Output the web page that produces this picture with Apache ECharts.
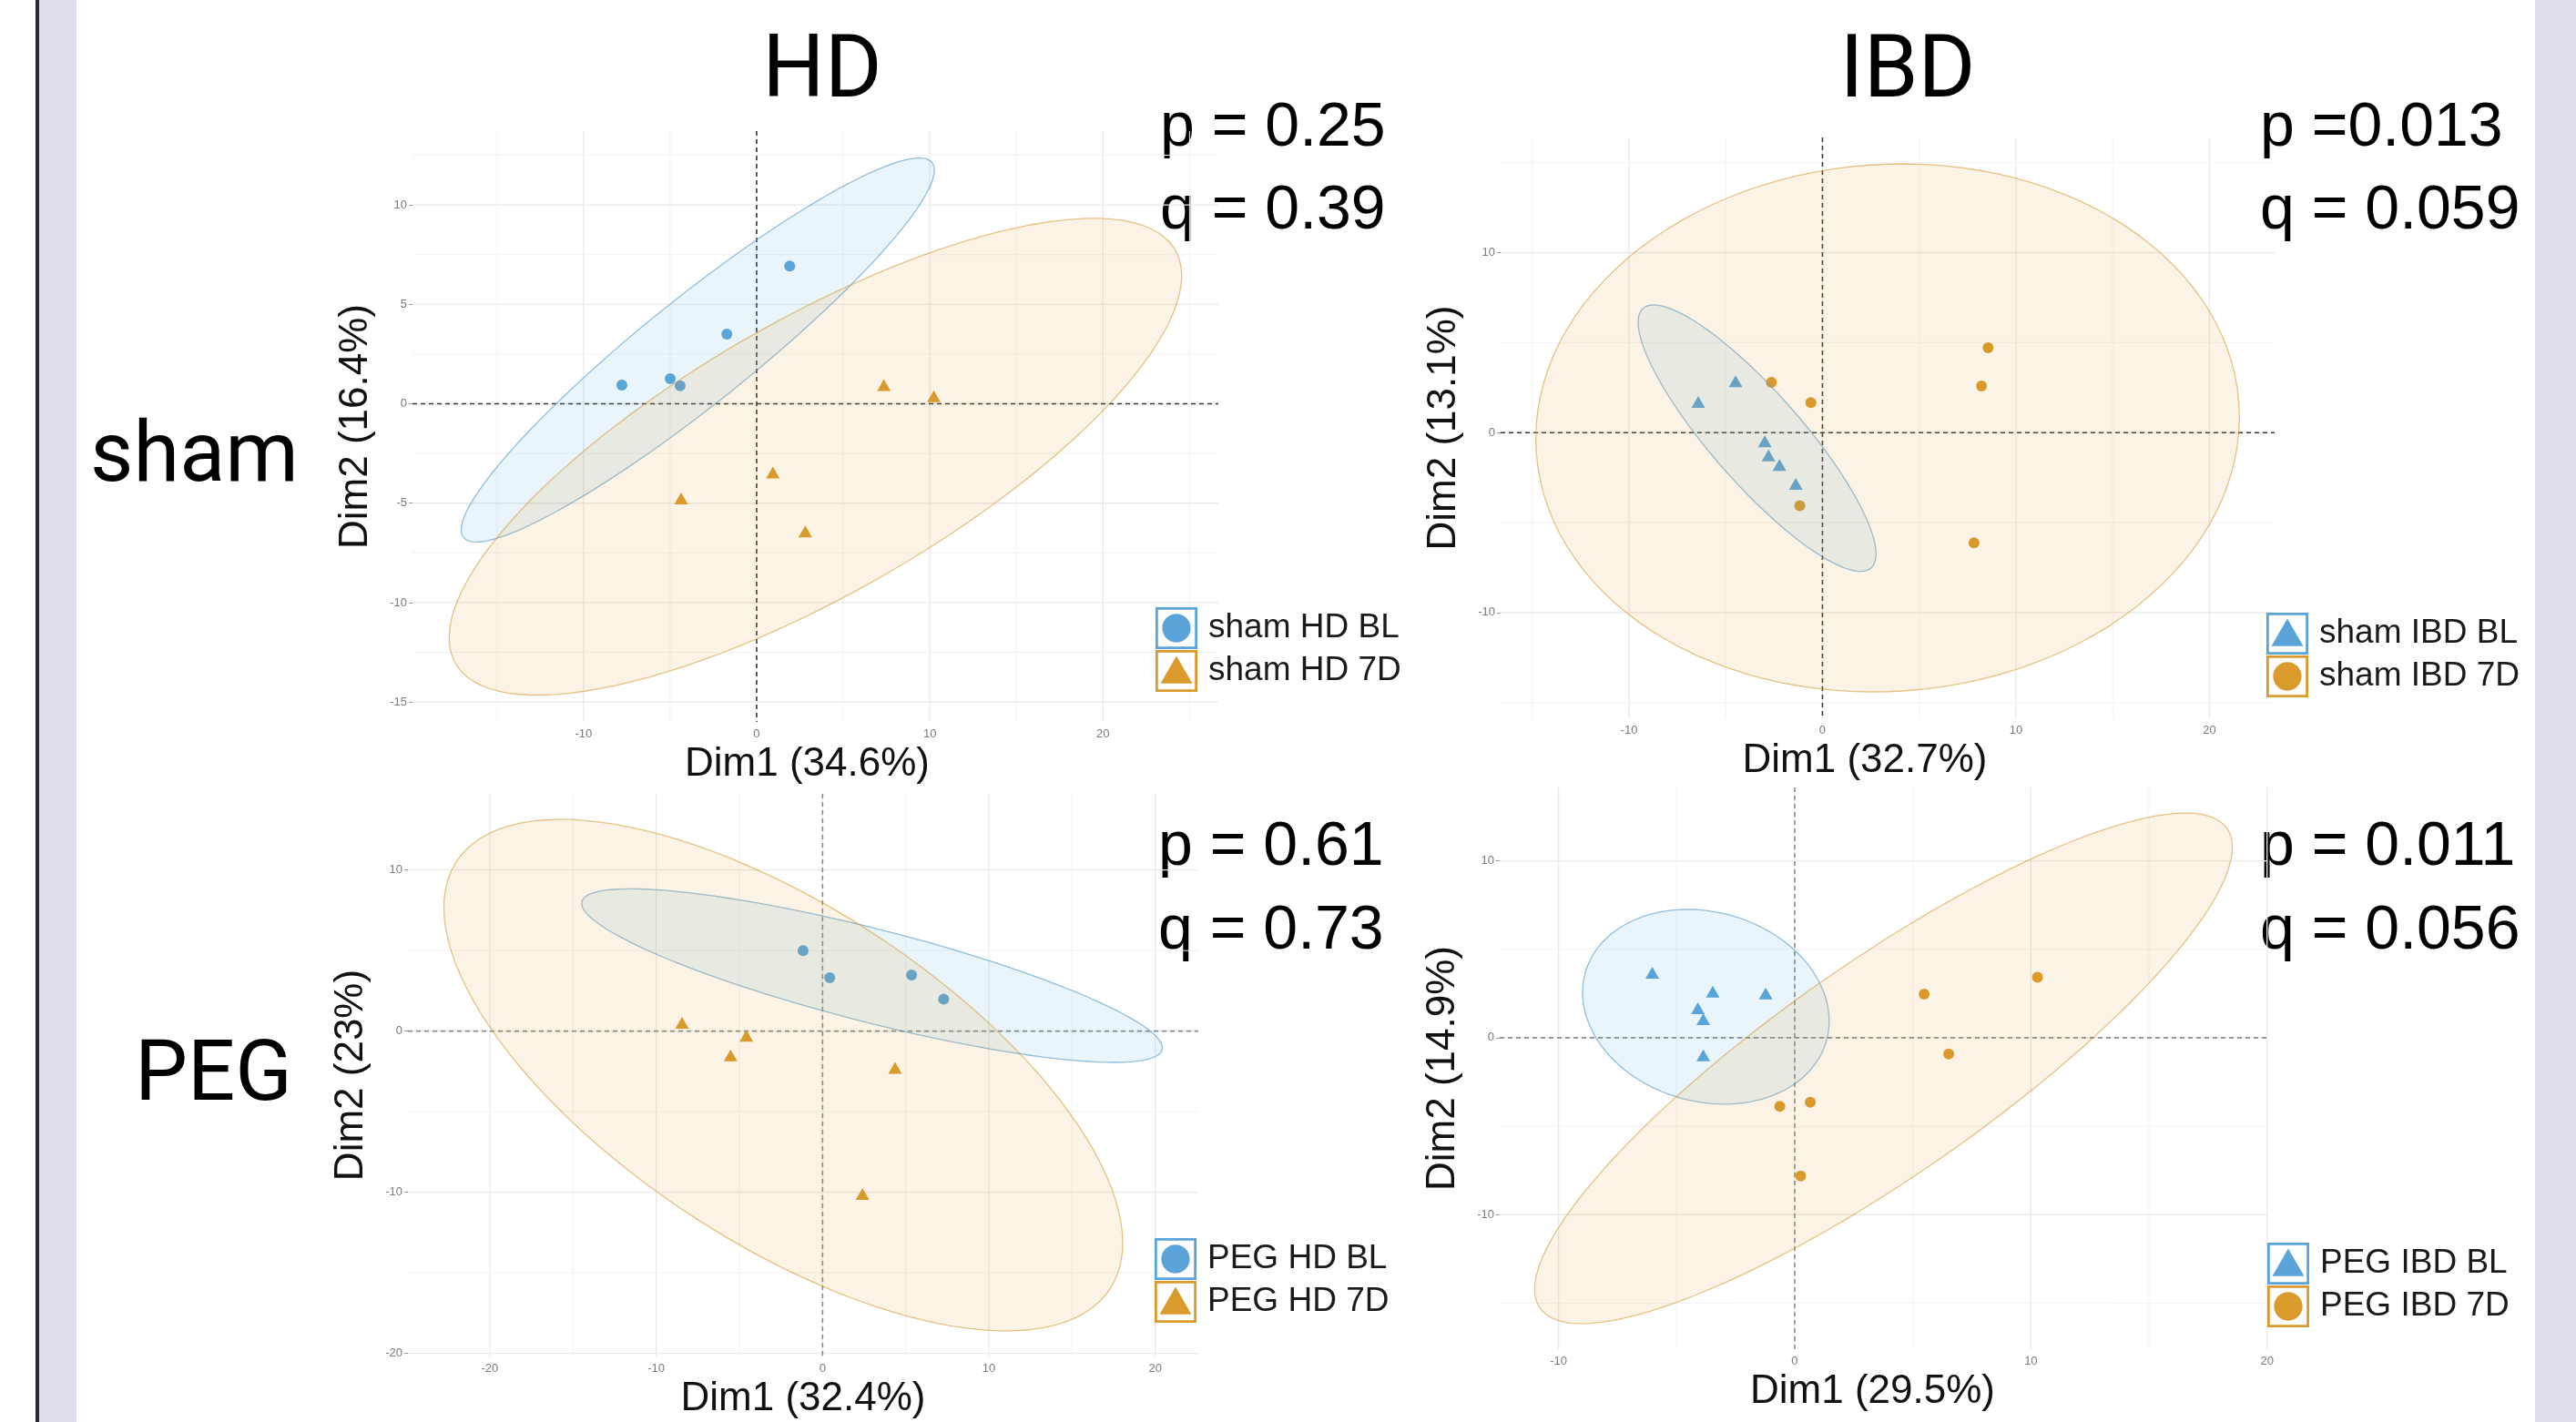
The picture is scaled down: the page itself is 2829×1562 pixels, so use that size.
<!DOCTYPE html>
<html>
<head>
<meta charset="utf-8">
<title>PCA HD / IBD</title>
<script src="https://cdn.jsdelivr.net/npm/echarts@6.0.0/dist/echarts.min.js"></script>
<style>
  html, body { margin: 0; padding: 0; background: #fff; }
  #chart { width: 2829px; height: 1562px; }
</style>
</head>
<body>
<div id="chart"></div>
<script>
// individual scores (Dim1, Dim2)
const shamHdBlX = [-7.78, -4.99, -4.42, -1.72, 1.91];
const shamHdBlY = [0.94, 1.26, 0.90, 3.50, 6.92];
const shamHd7dX = [7.35, 10.23, 0.94, -4.36, 2.81];
const shamHd7dY = [0.94, 0.38, -3.46, -4.76, -6.42];

const shamIbdBlX = [-6.42, -4.49, -2.98, -2.79, -2.22, -1.38];
const shamIbdBlY = [1.71, 2.85, -0.48, -1.27, -1.80, -2.85];
const shamIbd7dX = [-2.64, -0.60, -1.17, 8.56, 8.22, 7.83];
const shamIbd7dY = [2.79, 1.67, -4.06, 4.71, 2.59, -6.12];

const pegHdBlX = [-1.17, 0.43, 5.35, 7.28];
const pegHdBlY = [5.00, 3.31, 3.48, 1.99];
const pegHd7dX = [-8.45, -4.58, -5.53, 4.36, 2.40];
const pegHd7dY = [0.52, -0.29, -1.50, -2.28, -10.10];

const pegIbdBlX = [-6.03, -3.47, -1.23, -4.10, -3.87, -3.87];
const pegIbdBlY = [3.68, 2.61, 2.50, 1.67, 1.05, -1.00];
const pegIbd7dX = [10.28, 5.48, 6.52, -0.63, 0.66, 0.25];
const pegIbd7dY = [3.42, 2.46, -0.92, -3.88, -3.64, -7.81];

// axis breaks
const shamHdXTicks = [-10, 0, 10, 20];
const shamHdYTicks = [-15, -10, -5, 0, 5, 10];
const shamIbdXTicks = [-10, 0, 10, 20];
const shamIbdYTicks = [-10, 0, 10];
const pegHdXTicks = [-20, -10, 0, 10, 20];
const pegHdYTicks = [-20, -10, 0, 10];
const pegIbdXTicks = [-10, 0, 10, 20];
const pegIbdYTicks = [-10, 0, 10];

const pValues = ['p = 0.25', 'p =0.013', 'p = 0.61', 'p = 0.011'];
const qValues = ['q = 0.39', 'q = 0.059', 'q = 0.73', 'q = 0.056'];

const BLUE = '#5ba4d9';
const ORANGE = '#da9a2c';
const FONT = '"Liberation Sans", Arial, sans-serif';

const CIRCLE_KEY = 'path://M0,0H100V100H0Z M6,6V94H94V6Z M50,16C68.8,16 84,31.2 84,50C84,68.8 68.8,84 50,84C31.2,84 16,68.8 16,50C16,31.2 31.2,16 50,16Z';
const TRI_KEY = 'path://M0,0H100V100H0Z M6,6V94H94V6Z M50,14L88,80H12Z';

const panels = [
  { bl: [shamHdBlX, shamHdBlY], d7: [shamHd7dX, shamHd7dY], names: ['sham HD BL', 'sham HD 7D'],
    blSym: 'circle', d7Sym: 'triangle', xTicks: shamHdXTicks, yTicks: shamHdYTicks,
    xName: 'Dim1 (34.6%)', yName: 'Dim2 (16.4%)', xNameShift: 18,
    grid: { left: 453, top: 144, width: 885, height: 649 }, legend: { left: 1269, top: 667 }, zero: '#3a3a3a' },
  { bl: [shamIbdBlX, shamIbdBlY], d7: [shamIbd7dX, shamIbd7dY], names: ['sham IBD BL', 'sham IBD 7D'],
    blSym: 'triangle', d7Sym: 'circle', xTicks: shamIbdXTicks, yTicks: shamIbdYTicks,
    xName: 'Dim1 (32.7%)', yName: 'Dim2 (13.1%)', xNameShift: 50,
    grid: { left: 1648, top: 151, width: 850, height: 638 }, legend: { left: 2489, top: 673 }, zero: '#3a3a3a' },
  { bl: [pegHdBlX, pegHdBlY], d7: [pegHd7dX, pegHd7dY], names: ['PEG HD BL', 'PEG HD 7D'],
    blSym: 'circle', d7Sym: 'triangle', xTicks: pegHdXTicks, yTicks: pegHdYTicks,
    xName: 'Dim1 (32.4%)', yName: 'Dim2 (23%)', xNameShift: 0,
    grid: { left: 448, top: 872, width: 868, height: 618 }, legend: { left: 1268, top: 1360 }, zero: '#8a8a8a' },
  { bl: [pegIbdBlX, pegIbdBlY], d7: [pegIbd7dX, pegIbd7dY], names: ['PEG IBD BL', 'PEG IBD 7D'],
    blSym: 'triangle', d7Sym: 'circle', xTicks: pegIbdXTicks, yTicks: pegIbdYTicks,
    xName: 'Dim1 (29.5%)', yName: 'Dim2 (14.9%)', xNameShift: 24,
    grid: { left: 1647, top: 865, width: 843, height: 617 }, legend: { left: 2490, top: 1365 }, zero: '#8a8a8a' }
];

// 95% confidence ellipse as in stat_ellipse: radius sqrt(2 * F(0.95; 2, n-1))
function ellipse(xs, ys) {
  const n = xs.length;
  const mx = xs.reduce((s, v) => s + v, 0) / n;
  const my = ys.reduce((s, v) => s + v, 0) / n;
  let sxx = 0, syy = 0, sxy = 0;
  for (let i = 0; i < n; i++) {
    sxx += (xs[i] - mx) * (xs[i] - mx);
    syy += (ys[i] - my) * (ys[i] - my);
    sxy += (xs[i] - mx) * (ys[i] - my);
  }
  sxx /= n - 1; syy /= n - 1; sxy /= n - 1;
  const d = n - 1;
  const f = d / 2 * (Math.pow(0.05, -2 / d) - 1);
  const r = Math.sqrt(2 * f);
  const a = Math.sqrt(sxx), b = sxy / a, c = Math.sqrt(Math.max(syy - b * b, 0));
  const pts = [];
  for (let i = 0; i <= 120; i++) {
    const t = i / 120 * 2 * Math.PI;
    pts.push([mx + r * a * Math.cos(t), my + r * (b * Math.cos(t) + c * Math.sin(t))]);
  }
  return pts;
}

function padded(vals) {
  const lo = Math.min(...vals), hi = Math.max(...vals);
  const pad = (hi - lo) * 0.05;
  return [lo - pad, hi + pad];
}

// major breaks + minor lines halfway between
function gridValues(ticks, lo, hi) {
  const step = ticks[1] - ticks[0], half = step / 2;
  const out = [];
  for (let v = Math.ceil(lo / half) * half; v <= hi + 1e-9; v += half) {
    const major = Math.abs(v / step - Math.round(v / step)) < 1e-6;
    out.push({ v: v, major: major });
  }
  return out;
}

const grids = [], xAxes = [], yAxes = [], series = [], legends = [];

panels.forEach((p, i) => {
  const eBl = ellipse(p.bl[0], p.bl[1]);
  const e7d = ellipse(p.d7[0], p.d7[1]);
  const allX = p.bl[0].concat(p.d7[0], eBl.map(q => q[0]), e7d.map(q => q[0]));
  const allY = p.bl[1].concat(p.d7[1], eBl.map(q => q[1]), e7d.map(q => q[1]));
  const xr = padded(allX), yr = padded(allY);

  grids.push(Object.assign({ containLabel: false }, p.grid));

  xAxes.push({
    gridIndex: i, type: 'value', min: xr[0], max: xr[1],
    axisLine: { show: false, onZero: false }, axisTick: { show: false }, splitLine: { show: false },
    axisLabel: { customValues: p.xTicks, color: '#7a7a7a', fontSize: 13, margin: 7 },
    name: p.xName, nameLocation: 'middle', nameGap: 25,
    nameTextStyle: { fontSize: 44, color: '#111', fontFamily: FONT, padding: [0, p.xNameShift, 0, 0] }
  });
  yAxes.push({
    gridIndex: i, type: 'value', min: yr[0], max: yr[1],
    axisLine: { show: false, onZero: false }, splitLine: { show: false },
    axisTick: { show: true, customValues: p.yTicks, length: 4, lineStyle: { color: '#9a9a9a' } },
    axisLabel: { customValues: p.yTicks, color: '#7a7a7a', fontSize: 13, margin: 6 },
    name: p.yName, nameLocation: 'middle', nameGap: 40,
    nameTextStyle: { fontSize: 44, color: '#111', fontFamily: FONT }
  });

  const xLines = gridValues(p.xTicks, xr[0], xr[1]);
  const yLines = gridValues(p.yTicks, yr[0], yr[1]);

  // panel grid + dashed zero lines
  series.push({
    type: 'custom', xAxisIndex: i, yAxisIndex: i, silent: true, z: 1,
    data: [[0, 0]],
    renderItem: function (params, api) {
      const cs = params.coordSys;
      const kids = [];
      xLines.forEach(g => {
        const px = api.coord([g.v, 0])[0];
        kids.push({ type: 'line', shape: { x1: px, y1: cs.y, x2: px, y2: cs.y + cs.height },
          style: { stroke: g.major ? '#e9e9e9' : '#f3f3f3', lineWidth: g.major ? 1.3 : 1 } });
      });
      yLines.forEach(g => {
        const py = api.coord([0, g.v])[1];
        kids.push({ type: 'line', shape: { x1: cs.x, y1: py, x2: cs.x + cs.width, y2: py },
          style: { stroke: g.major ? '#e9e9e9' : '#f3f3f3', lineWidth: g.major ? 1.3 : 1 } });
      });
      const o = api.coord([0, 0]);
      kids.push({ type: 'line', shape: { x1: o[0], y1: cs.y, x2: o[0], y2: cs.y + cs.height },
        style: { stroke: p.zero, lineWidth: 1.6, lineDash: [5, 4] } });
      kids.push({ type: 'line', shape: { x1: cs.x, y1: o[1], x2: cs.x + cs.width, y2: o[1] },
        style: { stroke: p.zero, lineWidth: 1.6, lineDash: [5, 4] } });
      return { type: 'group', children: kids };
    }
  });

  const groups = [
    { xy: p.bl, name: p.names[0], sym: p.blSym, color: BLUE, ell: eBl,
      fill: 'rgba(86,165,220,0.12)', stroke: 'rgba(80,150,200,0.6)' },
    { xy: p.d7, name: p.names[1], sym: p.d7Sym, color: ORANGE, ell: e7d,
      fill: 'rgba(225,160,40,0.12)', stroke: 'rgba(210,150,40,0.55)' }
  ];

  groups.forEach(g => {
    series.push({
      type: 'scatter', name: g.name, xAxisIndex: i, yAxisIndex: i, z: 2,
      symbol: g.sym, symbolSize: g.sym === 'circle' ? 12 : [15, 13],
      itemStyle: { color: g.color, opacity: 1 },
      data: g.xy[0].map((v, k) => [v, g.xy[1][k]])
    });
  });
  groups.forEach(g => {
    series.push({
      type: 'custom', name: g.name + ' ellipse', xAxisIndex: i, yAxisIndex: i, z: 3, silent: true,
      data: g.ell,
      renderItem: function (params, api) {
        if (params.dataIndex !== 0) return null;
        return {
          type: 'polygon',
          shape: { points: g.ell.map(q => api.coord(q)) },
          style: { fill: g.fill, stroke: g.stroke, lineWidth: 1.3 }
        };
      }
    });
  });

  legends.push({
    orient: 'vertical', left: p.legend.left, top: p.legend.top, padding: 0,
    itemWidth: 46, itemHeight: 46, itemGap: 1, selectedMode: false,
    textStyle: { fontSize: 37, color: '#1a1a1a', fontFamily: FONT, padding: [0, 0, 0, 7] },
    data: [
      { name: p.names[0], icon: p.blSym === 'circle' ? CIRCLE_KEY : TRI_KEY },
      { name: p.names[1], icon: p.d7Sym === 'circle' ? CIRCLE_KEY : TRI_KEY }
    ]
  });
});

function label(text, x, y, size, align, family) {
  return { type: 'text', x: x, y: y, silent: true,
    style: { text: text, font: size + 'px ' + family, fill: '#000', align: align, verticalAlign: 'middle' } };
}

const graphics = [
  { type: 'rect', shape: { x: 39, y: 0, width: 4, height: 1562 }, style: { fill: '#2a2a2e' }, silent: true },
  { type: 'rect', shape: { x: 43, y: 0, width: 41, height: 1562 }, style: { fill: '#dfdeec' }, silent: true },
  { type: 'rect', shape: { x: 2784, y: 0, width: 45, height: 1562 }, style: { fill: '#dfdeec' }, silent: true },
  label('HD', 903, 82, 96, 'center', 'Roboto'),
  label('IBD', 2095, 82, 96, 'center', 'Roboto'),
  label('sham', 99, 505, 92, 'left', 'Roboto'),
  label('PEG', 148, 1185, 92, 'left', 'Roboto'),
  label(pValues[0], 1274, 141, 68, 'left', FONT),
  label(qValues[0], 1274, 232, 68, 'left', FONT),
  label(pValues[1], 2482, 141, 68, 'left', FONT),
  label(qValues[1], 2482, 232, 68, 'left', FONT),
  label(pValues[2], 1272, 931, 68, 'left', FONT),
  label(qValues[2], 1272, 1023, 68, 'left', FONT),
  label(pValues[3], 2482, 931, 68, 'left', FONT),
  label(qValues[3], 2482, 1023, 68, 'left', FONT)
];

const chart = echarts.init(document.getElementById('chart'));
chart.setOption({
  animation: false,
  backgroundColor: '#ffffff',
  textStyle: { fontFamily: FONT },
  grid: grids,
  xAxis: xAxes,
  yAxis: yAxes,
  legend: legends,
  graphic: graphics,
  series: series
});
</script>
</body>
</html>
